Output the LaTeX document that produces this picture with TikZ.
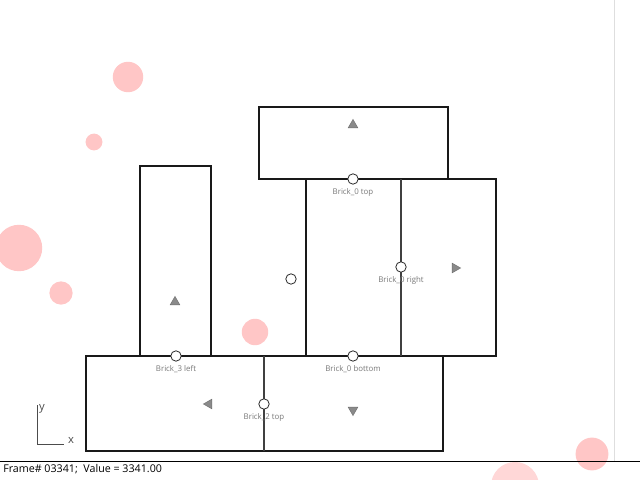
\documentclass[tikz,border=0pt]{standalone}
\usepackage{fontspec}
\setmainfont{Open Sans}
\usepackage{tikz}
\usetikzlibrary{positioning,shapes.geometric}
\definecolor{ballPink}{HTML}{FFC6C6}
\definecolor{markGray}{HTML}{8A8A8A}
\definecolor{guideGray}{HTML}{DEDEDE}
\definecolor{labelGray}{HTML}{7A7A7A}

\begin{document}
\begin{tikzpicture}[
    x=0.025cm,y=-0.025cm,
    brick/.style={draw=black!90,line width=1.1pt},
    divider/.style={draw=black!75,line width=1.1pt},
    ball/.style={circle,fill=ballPink,draw=none,inner sep=0pt},
    joint/.style={circle,draw=black!80,fill=white,line width=0.6pt,
      inner sep=0pt,minimum size=0.26cm},
    jointlabel/.style={text=labelGray,inner sep=0.5pt,
      font=\fontsize{5.6}{6.5}\selectfont},
    marker/.style={regular polygon,regular polygon sides=3,fill=markGray,
      draw=markGray!80!black,line width=0.3pt,inner sep=0pt,minimum size=0.28cm}
  ]
    \useasboundingbox[fill=white] (0,0) rectangle (640,480);

    % background balls
    \node[ball,minimum size=0.76cm] (ballA) at (128,77) {};
    \node[ball,minimum size=0.42cm] (ballB) at (94,142) {};
    \node[ball,minimum size=1.16cm] (ballC) at (19,248) {};
    \node[ball,minimum size=0.58cm] (ballD) at (61,293) {};
    \node[ball,minimum size=0.66cm] (ballE) at (255,332) {};
    \node[ball,minimum size=0.82cm] (ballF) at (592,454) {};
    \begin{scope}
      \clip (0,0) rectangle (640,480);
      \node[ball,fill=ballPink!70,minimum size=1.2cm] (ballG) at (515,486) {};
    \end{scope}

    % guides and status bar
    \coordinate (guideTop) at (614,0);
    \coordinate (guideBot) at (614,461);
    \draw[guideGray,line width=0.6pt] (guideTop) -- (guideBot);
    \coordinate (barL) at (0,461);
    \coordinate (barR) at (640,461);
    \draw[black,line width=0.7pt] (barL) -- (barR);
    \node[anchor=west,inner sep=0pt,font=\fontsize{7.6}{8.5}\selectfont] (frame)
      at (3,469) {Frame\# 03341;\ \ Value = 3341.00};

    % bricks
    \draw[brick] (259,107) rectangle (448,179);
    \draw[brick] (306,179) rectangle (496,356);
    \draw[brick] (140,166) rectangle (211,356);
    \draw[brick] (86,356) rectangle (443,451);
    \coordinate (divA) at (401,179);
    \coordinate (divB) at (401,356);
    \coordinate (divC) at (264,356);
    \coordinate (divD) at (264,451);
    \draw[divider] (divA) -- (divB);
    \draw[divider] (divC) -- (divD);

    % joints
    \node[joint] (jTop) at (353,179) {};
    \node[joint] (jRight) at (401,267) {};
    \node[joint] (jLeft) at (176,356) {};
    \node[joint] (jBottom) at (353,356) {};
    \node[joint] (jTwo) at (264,404) {};
    \node[joint] (jFree) at (291,279) {};
    \node[jointlabel,below=2pt of jTop] (lTop) {Brick\_0 top};
    \node[jointlabel,below=2pt of jRight] (lRight) {Brick\_0 right};
    \node[jointlabel,below=2pt of jLeft] (lLeft) {Brick\_3 left};
    \node[jointlabel,below=2pt of jBottom] (lBottom) {Brick\_0 bottom};
    \node[jointlabel,below=2pt of jTwo] (lTwo) {Brick\_2 top};

    % direction markers
    \node[marker] (mTop) at (353,125) {};
    \node[marker,shape border rotate=-90] (mRight) at (455,268) {};
    \node[marker] (mLeft) at (175,302) {};
    \node[marker,shape border rotate=90] (mBack) at (209,404) {};
    \node[marker,shape border rotate=180] (mDown) at (353,410) {};

    % axes
    \coordinate (axY) at (37,405);
    \coordinate (axO) at (37,444);
    \coordinate (axX) at (64,444);
    \draw[black!70,line width=0.5pt] (axY) -- (axO) -- (axX);
    \node[inner sep=0pt,font=\fontsize{8}{9}\selectfont,text=black!70] (yLab) at (42,409) {y};
    \node[inner sep=0pt,font=\fontsize{8}{9}\selectfont,text=black!70] (xLab) at (71,440) {x};
  \end{tikzpicture}
\end{document}
